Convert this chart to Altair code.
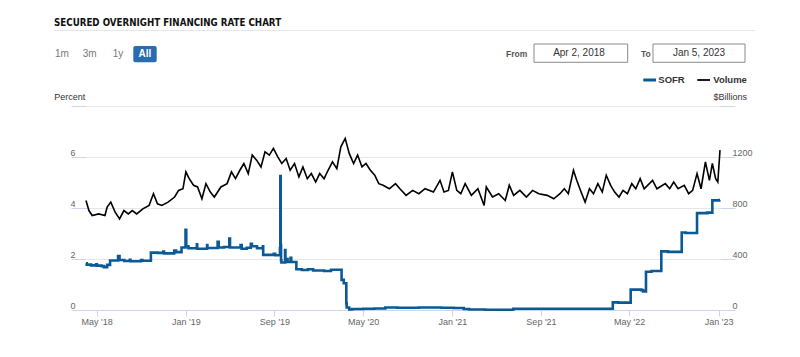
import altair as alt
import pandas as pd

# ---------------- data ----------------
sofr_dates = ["2018-04-02","2018-04-04","2018-04-16","2018-04-30","2018-05-02","2018-05-15","2018-05-21","2018-05-30",
              "2018-06-07","2018-06-29","2018-07-03","2018-07-16","2018-07-31","2018-08-02","2018-08-31","2018-09-04",
              "2018-09-27","2018-10-15","2018-10-31","2018-11-02","2018-11-30","2018-12-05","2018-12-20","2018-12-31",
              "2019-01-02","2019-01-08","2019-01-31","2019-02-01","2019-02-28","2019-03-01","2019-03-29","2019-04-01",
              "2019-04-15","2019-04-30","2019-05-02","2019-05-31","2019-06-03","2019-06-17","2019-06-28","2019-07-01",
              "2019-07-15","2019-07-31","2019-08-01","2019-08-30","2019-09-03","2019-09-16","2019-09-17","2019-09-18",
              "2019-09-19","2019-09-20","2019-09-30","2019-10-01","2019-10-07","2019-10-15","2019-10-17","2019-10-31",
              "2019-11-15","2019-12-02","2019-12-16","2019-12-31","2020-01-15","2020-02-03","2020-02-18","2020-03-03",
              "2020-03-09","2020-03-16","2020-03-17","2020-03-24","2020-04-01","2020-05-01","2020-06-01","2020-07-01",
              "2020-08-03","2020-09-01","2020-10-01","2020-11-02","2020-12-01","2021-01-04","2021-02-01","2021-02-16",
              "2021-04-01","2021-06-17","2022-01-03","2022-03-17","2022-04-01","2022-05-05","2022-06-03","2022-06-08",
              "2022-06-16","2022-07-01","2022-07-28","2022-08-15","2022-09-22","2022-10-03","2022-11-03","2022-12-01",
              "2022-12-15","2023-01-03","2023-01-05"]
sofr_values = [1.83,1.78,1.75,1.79,1.74,1.72,1.68,1.77,
               1.94,2.12,1.96,1.92,1.97,1.91,1.96,1.93,
               2.25,2.24,2.29,2.22,2.33,2.27,2.45,3.15,
               2.50,2.42,2.58,2.40,2.55,2.43,2.67,2.45,
               2.47,2.80,2.45,2.55,2.40,2.44,2.60,2.50,
               2.42,2.50,2.16,2.20,2.15,2.43,5.25,2.55,
               1.95,1.86,2.35,2.00,1.88,2.05,1.88,1.60,
               1.57,1.60,1.55,1.55,1.53,1.58,1.58,1.18,
               1.05,0.26,0.10,0.02,0.04,0.05,0.06,0.10,
               0.09,0.09,0.10,0.10,0.09,0.08,0.04,0.02,
               0.01,0.05,0.05,0.30,0.29,0.80,0.78,0.73,
               1.50,1.53,2.30,2.28,3.04,3.02,3.80,3.82,
               4.30,4.31,4.31]

vol_dates = ["2018-04-02","2018-04-10","2018-04-19","2018-05-07","2018-05-24","2018-05-30","2018-06-09","2018-06-21",
             "2018-07-03","2018-07-15","2018-07-27","2018-08-07","2018-08-19","2018-09-05","2018-09-22","2018-10-04",
             "2018-10-15","2018-10-27","2018-11-13","2018-12-01","2018-12-12","2018-12-24","2019-01-01","2019-01-10",
             "2019-01-22","2019-02-02","2019-02-14","2019-02-25","2019-03-09","2019-03-20","2019-04-07","2019-04-24",
             "2019-05-06","2019-05-17","2019-05-29","2019-06-09","2019-06-21","2019-07-02","2019-07-14","2019-07-26",
             "2019-08-06","2019-08-18","2019-08-29","2019-09-10","2019-09-21","2019-10-03","2019-10-14","2019-10-26",
             "2019-11-07","2019-11-18","2019-11-30","2019-12-11","2019-12-23","2020-01-03","2020-01-15","2020-01-26",
             "2020-02-07","2020-02-19","2020-03-01","2020-03-13","2020-03-24","2020-04-05","2020-04-16","2020-04-28",
             "2020-05-09","2020-05-21","2020-06-02","2020-06-13","2020-06-25","2020-07-12","2020-07-29","2020-08-10",
             "2020-08-27","2020-09-14","2020-10-01","2020-10-18","2020-11-10","2020-11-28","2020-12-09","2020-12-21",
             "2021-01-01","2021-01-13","2021-01-24","2021-02-05","2021-02-22","2021-03-12","2021-03-29","2021-04-04",
             "2021-04-21","2021-05-08","2021-05-26","2021-06-06","2021-06-18","2021-07-05","2021-07-23","2021-08-09",
             "2021-08-26","2021-09-18","2021-10-06","2021-10-23","2021-11-04","2021-11-15","2021-11-29","2021-12-08",
             "2021-12-20","2021-12-31","2022-01-12","2022-01-23","2022-02-04","2022-02-16","2022-02-27","2022-03-11",
             "2022-03-22","2022-04-03","2022-04-14","2022-04-26","2022-05-08","2022-05-19","2022-05-31","2022-06-11",
             "2022-07-04","2022-07-16","2022-08-08","2022-08-20","2022-08-31","2022-09-12","2022-09-29","2022-10-11",
             "2022-10-22","2022-11-03","2022-11-14","2022-11-26","2022-12-07","2022-12-15","2022-12-24","2022-12-30",
             "2023-01-05"]
vol_values = [859,780,741,754,741,807,846,767,
              714,780,754,780,754,793,820,912,
              833,820,846,886,938,951,1083,1030,
              978,965,872,991,925,886,965,991,
              1083,1030,1096,1149,1070,1215,1175,1122,
              1241,1215,1267,1201,1149,1188,1096,1149,
              1044,1122,1030,1070,1004,1070,1030,1096,
              1162,1109,1280,1346,1228,1149,1215,1122,
              1149,1096,1057,991,978,951,991,951,
              899,938,912,951,925,1017,925,938,
              1083,938,912,991,899,951,820,965,
              886,912,859,978,899,938,886,938,
              912,899,872,912,951,912,1096,1017,
              925,846,951,912,991,925,1057,978,
              925,886,938,912,991,951,1030,951,
              1017,951,991,951,1004,951,978,912,
              938,1070,951,1162,1017,1149,1030,1004,
              1254]

x_tick_dates = ["2018-05-01","2019-01-01","2019-09-01","2020-05-01","2021-01-01","2021-09-01","2022-05-01","2023-01-01"]
left_ticks = [0, 2, 4, 6, 8]
right_ticks = [0, 400, 800, 1200, 1600]

sofr_df = pd.DataFrame({"date": [d + "T00:00:00" for d in sofr_dates], "sofr": sofr_values})
vol_df = pd.DataFrame({"date": [d + "T00:00:00" for d in vol_dates], "vol": vol_values})

def dt(s):
    y, m, d = (int(p) for p in s.split("-"))
    return alt.DateTime(year=y, month=m, date=d)

FONT = "Liberation Sans, Arial, sans-serif"
TITLE_FONT = "DejaVu Sans Condensed, sans-serif"
BLUE = "#0b5a96"
AXC = "#ccd6eb"

x_enc = alt.X(
    "date:T",
    scale=alt.Scale(domain=[dt("2018-04-02"), dt("2023-01-05")]),
    axis=alt.Axis(values=[dt(s) for s in x_tick_dates], format="%b '%y", title=None, grid=False,
                  domainColor=AXC, tickColor=AXC, tickSize=6, labelPadding=1,
                  labelFontSize=9, labelColor="#666", labelFont=FONT, labelFlush=False),
)

sofr_line = alt.Chart(sofr_df).mark_line(interpolate="step-after", color=BLUE, strokeWidth=2.6).encode(
    x=x_enc,
    y=alt.Y("sofr:Q", scale=alt.Scale(domain=[0, 8], nice=False),
            axis=alt.Axis(orient="left", values=left_ticks, title=None, grid=True, gridColor="#e6e6e6",
                          domain=False, ticks=True, tickSize=15, tickColor=AXC,
                          labelAlign="left", labelBaseline="bottom", labelPadding=1,
                          labelFontSize=9, labelColor="#666", labelFont=FONT,
                          labelExpr="datum.value == 8 ? '' : datum.label")),
)

vol_line = alt.Chart(vol_df).mark_line(color="#000000", strokeWidth=1.6, strokeJoin="miter").encode(
    x=x_enc,
    y=alt.Y("vol:Q", scale=alt.Scale(domain=[0, 1600], nice=False),
            axis=alt.Axis(orient="right", values=right_ticks, title=None, grid=False, format="d",
                          domain=False, ticks=True, tickSize=15, tickColor=AXC,
                          labelAlign="left", labelBaseline="bottom", labelPadding=-3,
                          labelFontSize=9, labelColor="#666", labelFont=FONT,
                          labelExpr="datum.value == 1600 ? '' : datum.label")),
)

dummy = pd.DataFrame({"k": [0]})

def txt(s, x, y, size=9, weight="normal", color="#333333", align="left", font=FONT):
    return alt.Chart(dummy).mark_text(text=s, align=align, baseline="middle", fontSize=size,
                                      fontWeight=weight, color=color, font=font).encode(
        x=alt.value(x), y=alt.value(y))

def rule(x1, x2, y, color, w=1):
    return alt.Chart(dummy).mark_rule(color=color, strokeWidth=w).encode(
        x=alt.value(x1), x2=alt.value(x2), y=alt.value(y))

def box(x1, x2, y1, y2, fill, stroke=None, radius=0):
    kw = dict(fill=fill, cornerRadius=radius)
    if stroke:
        kw.update(stroke=stroke, strokeWidth=1)
    return alt.Chart(dummy).mark_rect(**kw).encode(
        x=alt.value(x1), x2=alt.value(x2), y=alt.value(y1), y2=alt.value(y2))

# positions relative to plot origin (86, 106)
decor = [
    txt("SECURED OVERNIGHT FINANCING RATE CHART", -32, -83.5, size=9.7, weight="bold", color="#111", font=TITLE_FONT),
    rule(-32, 669, -75.5, "#e3e6ea"),
    txt("1m", -31, -52.5, size=10, color="#777"),
    txt("3m", -3.3, -52.5, size=10, color="#777"),
    txt("1y", 26.7, -52.5, size=10, color="#777"),
    box(47.3, 70.7, -60, -43.7, "#2a6cb0", radius=2),
    txt("All", 59, -52, size=10, weight="bold", color="#ffffff", align="center"),
    txt("From", 420, -52.5, size=8.5, weight="bold", color="#555"),
    box(448, 541.7, -62, -43.7, "#ffffff", stroke="#8a8a8a"),
    txt("Apr 2, 2018", 493, -52.7, size=10, color="#333", align="center"),
    txt("To", 555, -52.5, size=8.5, weight="bold", color="#555"),
    box(567, 659, -62, -43.7, "#ffffff", stroke="#8a8a8a"),
    txt("Jan 5, 2023", 613, -52.7, size=10, color="#333", align="center"),
    rule(557.3, 570, -26, BLUE, 3),
    txt("SOFR", 572.3, -26, size=9.5, weight="bold", color="#333"),
    rule(611.3, 624, -26, "#000000", 1.8),
    txt("Volume", 627.3, -26, size=9.5, weight="bold", color="#333"),
    txt("$Billions", 661, -8.7, size=9, color="#333", align="right"),
    txt("Percent", -31.7, -8.7, size=9, color="#333"),
]

chart = alt.layer(sofr_line, vol_line, *decor).resolve_scale(y="independent").properties(
    width=634, height=204,
    autosize=alt.AutoSizeParams(type="none"),
    padding={"left": 86, "top": 106, "right": 80, "bottom": 47},
).configure(background="white").configure_view(stroke="transparent", strokeWidth=0)

chart.save("out.html", embed_options={"renderer": "svg", "actions": False})
